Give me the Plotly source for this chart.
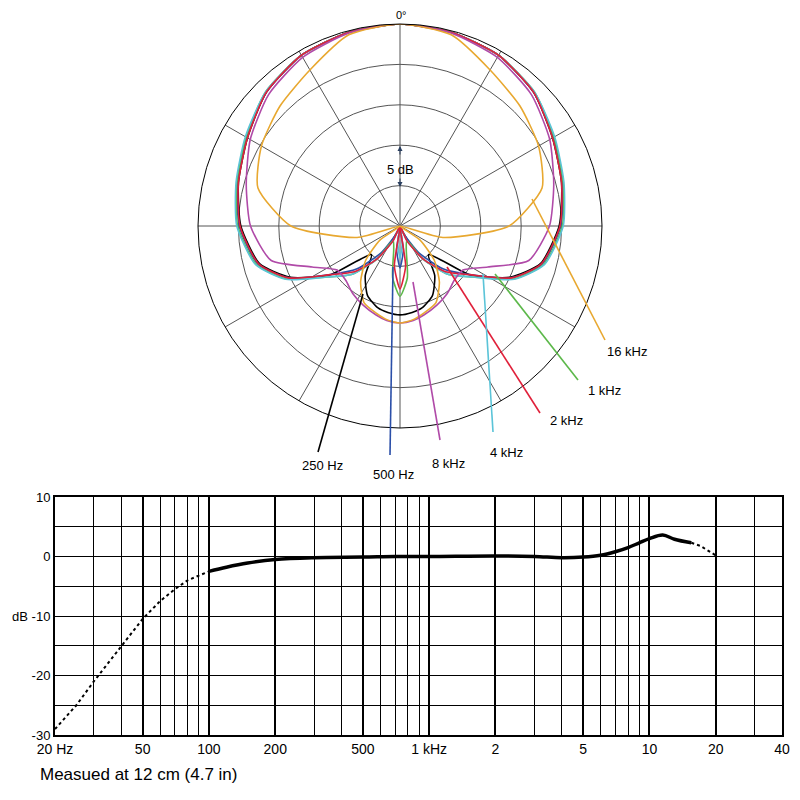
import plotly.graph_objects as go
import numpy as np

# ---------- polar data (dB, 0 = on-axis, -25 = centre) ----------
angles_half = [0, 15, 30, 45, 60, 75, 90, 105, 115, 125, 135, 145, 155, 165, 172, 180]
pol_500 = [0, -0.2, -0.6, -1.6, -3.1, -4.2, -5.1, -6.8, -9.8, -14.5, -17.5, -21, -24, -25, -22, -19.8]
pol_250 = [0, -0.2, -0.6, -1.6, -3.2, -4.3, -5.3, -7.0, -10, -14.5, -20, -17.5, -15.5, -14.5, -14.2, -14]
pol_1k = [0, -0.2, -0.6, -1.5, -3.0, -4.1, -4.9, -6.6, -9.5, -14, -16.5, -20, -23, -22, -18.5, -16.3]
pol_2k = [0, -0.2, -0.6, -1.6, -3.2, -4.3, -5.2, -6.9, -9.8, -14.5, -17, -20, -23, -25, -20, -17.2]
pol_4k = [0, -0.2, -0.6, -1.5, -2.9, -4.0, -4.8, -6.5, -9.4, -14, -16.5, -20, -23, -25, -23, -21]
pol_8k = [0, -0.3, -0.9, -2.0, -3.6, -5.3, -6.5, -8.5, -13, -15.5, -15.5, -14.8, -14.2, -13.6, -13.2, -13]
pol_16k = [0, -0.5, -2.7, -4.0, -5.2, -6.8, -11.5, -19.5, -25, -22, -19, -16.5, -14.5, -13.8, -13.3, -13]

series = [("250 Hz", pol_250, "#000000"), ("500 Hz", pol_500, "#2b4fa8"),
          ("1 kHz", pol_1k, "#5cb84a"), ("4 kHz", pol_4k, "#5bc4d8"),
          ("2 kHz", pol_2k, "#e0203a"), ("8 kHz", pol_8k, "#b04aa8"),
          ("16 kHz", pol_16k, "#e8a830")]

# ---------- frequency response ----------
f_solid = [100, 120, 150, 200, 300, 500, 700, 1000, 2000, 3000, 4000, 5000, 6000, 7000, 8000, 9000, 10000, 11500, 13000, 15500]
db_solid = [-2.5, -1.8, -1.1, -0.5, -0.2, -0.1, 0, 0, 0.1, 0, -0.2, -0.1, 0.2, 0.8, 1.5, 2.3, 3.0, 3.6, 2.9, 2.3]
f_low = [20, 25, 30, 40, 50, 60, 70, 80, 100]
db_low = [-29, -25, -21, -15, -10.5, -7.5, -5.5, -4, -2.5]
f_high = [15500, 17000, 20000]
db_high = [2.3, 1.8, 0.2]

major_x = [20, 50, 100, 200, 500, 1000, 2000, 5000, 10000, 20000, 40000]
major_txt = ["20 Hz", "50", "100", "200", "500", "1 kHz", "2", "5", "10", "20", "40"]
minor_x = [30, 40, 60, 70, 80, 90, 300, 400, 600, 700, 800, 900, 3000, 4000, 6000, 7000, 8000, 9000, 30000]
y_ticks = [10, 0, -10, -20, -30]
y_txt = ["10", "0", "dB -10", "-20", "-30"]

FONT = "Liberation Sans Narrow, Liberation Sans, Arial"
fig = go.Figure()

for name, vals, col in series:
    th = angles_half + [360 - a for a in reversed(angles_half[:-1])]
    r = vals + list(reversed(vals[:-1]))
    fig.add_trace(go.Scatterpolar(theta=th, r=r, mode="lines", line=dict(color=col, width=1.6, shape="spline", smoothing=0.6),
                                  name=name, showlegend=False))

fig.add_trace(go.Scatter(x=f_low, y=db_low, mode="lines", line=dict(color="black", width=2, dash="dot"), xaxis="x", yaxis="y", showlegend=False))
fig.add_trace(go.Scatter(x=f_high, y=db_high, mode="lines", line=dict(color="black", width=2, dash="dot"), xaxis="x", yaxis="y", showlegend=False))
fig.add_trace(go.Scatter(x=f_solid, y=db_solid, mode="lines", line=dict(color="black", width=3.5, shape="spline"), xaxis="x", yaxis="y", showlegend=False))

S = 784.0
OFF = 8.0
PX = lambda px: (px - OFF) / S
PY = lambda py: 1 - (py - OFF) / S
P = lambda px, py: (PX(px), PY(py))

fig.update_layout(
    width=784, height=784, margin=dict(l=0, r=0, t=0, b=0, autoexpand=False),
    paper_bgcolor="white", plot_bgcolor="white", font=dict(family=FONT, color="black", size=14),
    polar=dict(domain=dict(x=[PX(198), PX(602)], y=[PY(428), PY(24)]), bgcolor="white",
               radialaxis=dict(range=[-25, 0], tickvals=[-20, -15, -10, -5, 0], showticklabels=False, ticks="",
                               gridcolor="#555", gridwidth=0.6, showline=False),
               angularaxis=dict(rotation=90, direction="clockwise", dtick=30, showticklabels=False, ticks="",
                                gridcolor="#555", gridwidth=0.6, linecolor="black", linewidth=1)),
    xaxis=dict(type="log", domain=[PX(55), PX(782)], range=[np.log10(20), np.log10(40000)], automargin=False,
               tickvals=major_x, ticktext=major_txt, showgrid=True, gridcolor="black", gridwidth=1.6,
               minor=dict(tickvals=minor_x, showgrid=True, gridcolor="black", gridwidth=0.8, ticks=""),
               showline=True, linecolor="black", linewidth=2, mirror=True, ticks="", tickfont=dict(size=14), zeroline=False),
    yaxis=dict(domain=[PY(735), PY(497)], range=[-30, 10], tickvals=y_ticks, ticktext=y_txt, automargin=False,
               showgrid=True, gridcolor="black", gridwidth=1,
               minor=dict(dtick=5, showgrid=True, gridcolor="black", gridwidth=1, ticks=""),
               showline=True, linecolor="black", linewidth=2, mirror=True, ticks="", tickfont=dict(size=13), zeroline=False),
)

leaders = [((532, 199), (605, 340), "16 kHz", (605, 352), "#e8a830"),
           ((495, 274), (578, 380), "1 kHz", (586, 391), "#5cb84a"),
           ((447, 267), (540, 413), "2 kHz", (548, 420), "#e0203a"),
           ((483, 274), (493, 432), "4 kHz", (488, 453), "#5bc4d8"),
           ((413, 282), (440, 440), "8 kHz", (430, 463), "#b04aa8"),
           ((393, 267), (390, 455), "500 Hz", (371, 474), "#2b4fa8"),
           ((363, 294), (318, 452), "250 Hz", (300, 465), "#000000")]
shapes = []
ann = []
for (a, b, txt, tp, col) in leaders:
    x0, y0 = P(*a); x1, y1 = P(*b)
    shapes.append(dict(type="line", xref="paper", yref="paper", x0=x0, y0=y0, x1=x1, y1=y1, line=dict(color=col, width=1.6)))
    tx, ty = P(*tp)
    ann.append(dict(x=tx, y=ty, xref="paper", yref="paper", text=txt, showarrow=False, xanchor="left", font=dict(size=13)))
ann += [
    dict(x=PX(401), y=PY(23), xref="paper", yref="paper", text="0°", showarrow=False, font=dict(size=11), yanchor="bottom"),
    dict(x=PX(400), y=PY(160), xref="paper", yref="paper", text="5 dB", showarrow=False, font=dict(size=13)),
    dict(x=PX(400), y=PY(146), ax=0, ay=10, xref="paper", yref="paper", showarrow=True, arrowhead=2, arrowwidth=1, text=""),
    dict(x=PX(400), y=PY(187), ax=0, ay=-10, xref="paper", yref="paper", showarrow=True, arrowhead=2, arrowwidth=1, text=""),
    dict(x=PX(38), y=PY(786), xref="paper", yref="paper", text="Measued at 12 cm (4.7 in)", showarrow=False, xanchor="left", yanchor="bottom", font=dict(size=17)),
]
fig.update_layout(shapes=shapes, annotations=ann)
fig.write_html("out.html")
